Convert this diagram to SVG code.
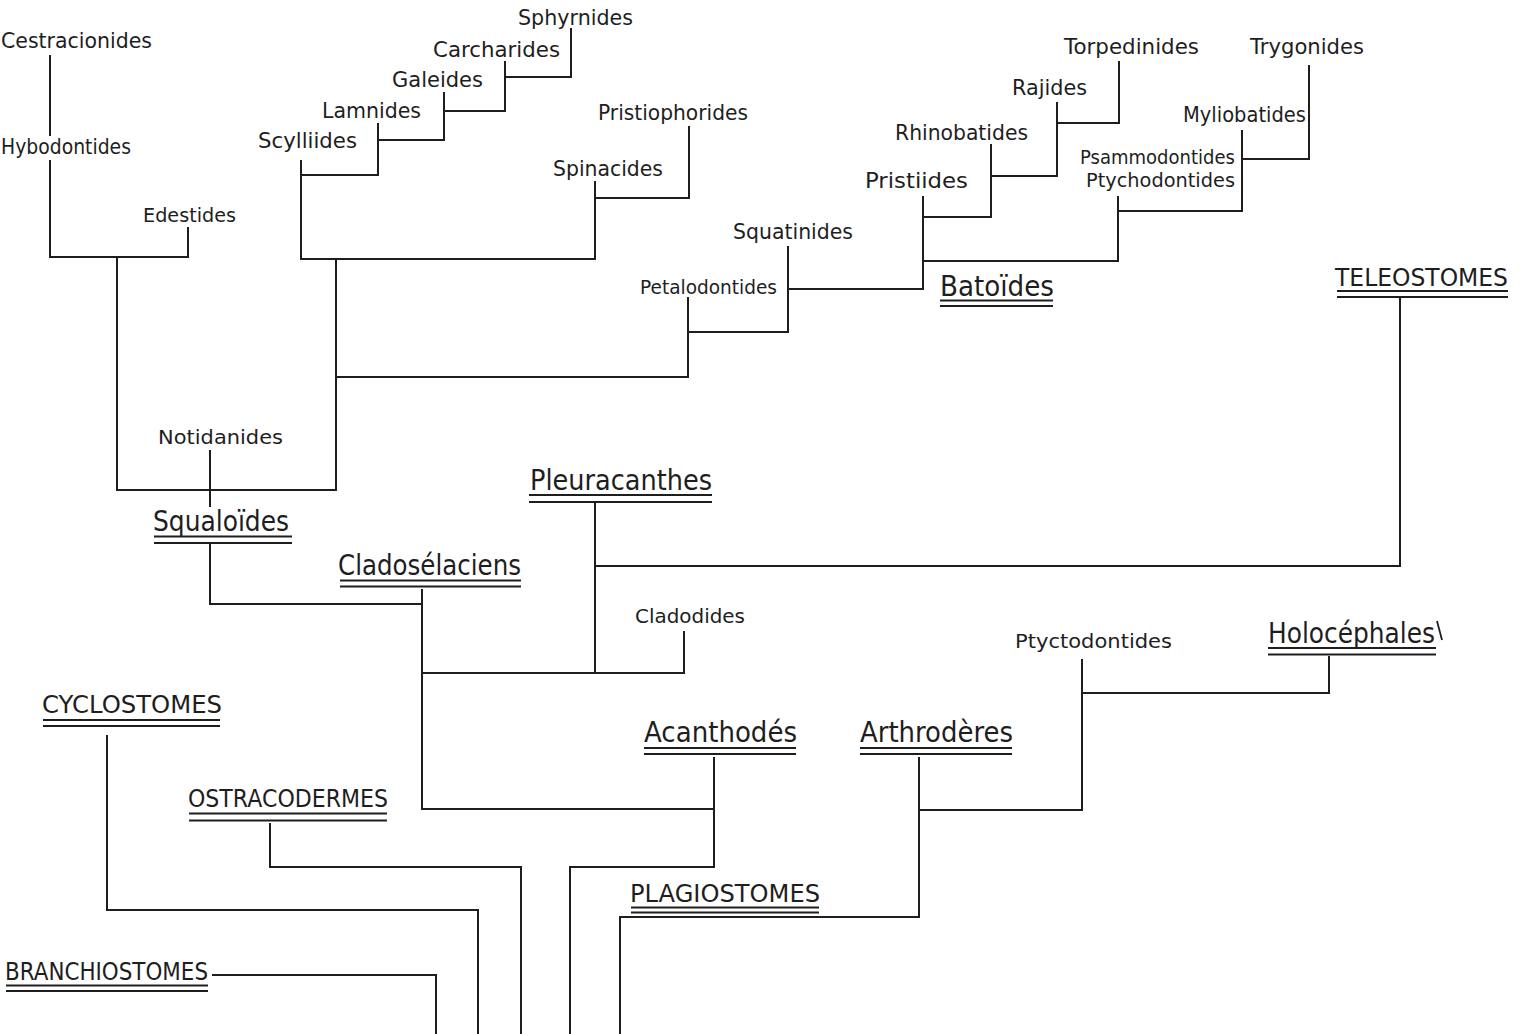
<svg xmlns="http://www.w3.org/2000/svg" width="1528" height="1034" viewBox="0 0 1528 1034">
  <style>
    .bg { fill: #ffffff; }
    .ln { stroke: #1e1e1e; stroke-width: 2; fill: none; stroke-linecap: square; }
    .ul { stroke: #1e1e1e; stroke-width: 1.8; fill: none; }
    .t { font-family: "DejaVu Sans", "Liberation Sans", sans-serif; fill: #1e1e1e; }
    .s { font-size: 21px; }
    .xs { font-size: 19px; }
    .m { font-size: 28px; }
    .u { font-size: 24px; }
  </style>
  <rect class="bg" x="0" y="0" width="1528" height="1034"/>

  <!-- tree connectors -->
  <g id="connectors">
    <!-- Cestracionides / Hybodontides / Edestides -->
    <path class="ln" d="M50 56 V135 M50 161 V257 H188 V228 M117 257 V490 H336"/>
    <!-- Scylliides to Sphyrnides ladder -->
    <path class="ln" d="M301 161 V259 H595 M301 175 H378 V124 M378 140 H444 V93 M444 111 H505 V62 M505 77 H571 V29"/>
    <!-- Spinacides / Pristiophorides -->
    <path class="ln" d="M595 182 V259 M595 198 H689 V127"/>
    <!-- main shark branch -->
    <path class="ln" d="M336 259 V490 M336 377 H688 V298 M688 332 H788 V247"/>
    <!-- Squatinides to Batoides -->
    <path class="ln" d="M788 332 V289 H923 V197 M923 217 H991 V145 M991 176 H1057 V103 M1057 123 H1119 V62"/>
    <path class="ln" d="M923 261 H1118 V197 M1118 211 H1242 V131 M1242 159 H1309 V66"/>
    <!-- Notidanides / Squaloides / Cladoselaciens -->
    <path class="ln" d="M210 451 V506 M210 545 V604 H422 M422 590 V809 H714"/>
    <!-- Pleuracanthes / Cladodides / Teleostomes -->
    <path class="ln" d="M422 673 H684 V632 M595 503 V673 M595 566 H1400 V298"/>
    <!-- Acanthodes -->
    <path class="ln" d="M714 758 V867 H570 V1034"/>
    <!-- Arthroderes / Ptyctodontides / Holocephales -->
    <path class="ln" d="M919 758 V917 H620 V1034 M919 810 H1082 V660 M1082 693 H1329 V657"/>
    <!-- Ostracodermes / Cyclostomes / Branchiostomes -->
    <path class="ln" d="M270 824 V867 H521 V1034"/>
    <path class="ln" d="M107 736 V910 H478 V1034"/>
    <path class="ln" d="M213 975 H436 V1034"/>
  </g>

  <!-- small labels -->
  <g id="cestracionides"><text class="t s" x="1" y="48" textLength="151" lengthAdjust="spacingAndGlyphs">Cestracionides</text></g>
  <g id="hybodontides"><text class="t s" x="1" y="154" textLength="130" lengthAdjust="spacingAndGlyphs">Hybodontides</text></g>
  <g id="edestides"><text class="t xs" x="143" y="222" textLength="93" lengthAdjust="spacingAndGlyphs">Edestides</text></g>
  <g id="scylliides"><text class="t s" x="258" y="148" textLength="99" lengthAdjust="spacingAndGlyphs">Scylliides</text></g>
  <g id="lamnides"><text class="t s" x="322" y="118" textLength="99" lengthAdjust="spacingAndGlyphs">Lamnides</text></g>
  <g id="galeides"><text class="t s" x="392" y="87" textLength="91" lengthAdjust="spacingAndGlyphs">Galeides</text></g>
  <g id="carcharides"><text class="t s" x="433" y="57" textLength="127" lengthAdjust="spacingAndGlyphs">Carcharides</text></g>
  <g id="sphyrnides"><text class="t s" x="518" y="25" textLength="115" lengthAdjust="spacingAndGlyphs">Sphyrnides</text></g>
  <g id="pristiophorides"><text class="t s" x="598" y="120" textLength="150" lengthAdjust="spacingAndGlyphs">Pristiophorides</text></g>
  <g id="spinacides"><text class="t s" x="553" y="176" textLength="110" lengthAdjust="spacingAndGlyphs">Spinacides</text></g>
  <g id="squatinides"><text class="t s" x="733" y="239" textLength="120" lengthAdjust="spacingAndGlyphs">Squatinides</text></g>
  <g id="petalodontides"><text class="t xs" x="640" y="294" textLength="137" lengthAdjust="spacingAndGlyphs">Petalodontides</text></g>
  <g id="pristiides"><text class="t s" x="865" y="188" textLength="103" lengthAdjust="spacingAndGlyphs">Pristiides</text></g>
  <g id="rhinobatides"><text class="t s" x="895" y="140" textLength="133" lengthAdjust="spacingAndGlyphs">Rhinobatides</text></g>
  <g id="rajides"><text class="t s" x="1012" y="95" textLength="75" lengthAdjust="spacingAndGlyphs">Rajides</text></g>
  <g id="torpedinides"><text class="t s" x="1064" y="54" textLength="135" lengthAdjust="spacingAndGlyphs">Torpedinides</text></g>
  <g id="trygonides"><text class="t s" x="1250" y="54" textLength="114" lengthAdjust="spacingAndGlyphs">Trygonides</text></g>
  <g id="myliobatides"><text class="t s" x="1183" y="122" textLength="123" lengthAdjust="spacingAndGlyphs">Myliobatides</text></g>
  <g id="psammodontides">
    <text class="t xs" x="1080" y="164" textLength="155" lengthAdjust="spacingAndGlyphs">Psammodontides</text>
    <text class="t xs" x="1086" y="187" textLength="149" lengthAdjust="spacingAndGlyphs">Ptychodontides</text>
  </g>
  <g id="notidanides"><text class="t xs" x="158" y="444" textLength="125" lengthAdjust="spacingAndGlyphs">Notidanides</text></g>
  <g id="cladodides"><text class="t xs" x="635" y="623" textLength="110" lengthAdjust="spacingAndGlyphs">Cladodides</text></g>
  <g id="ptyctodontides"><text class="t xs" x="1015" y="648" textLength="157" lengthAdjust="spacingAndGlyphs">Ptyctodontides</text></g>

  <!-- major groups, double underlined -->
  <g id="batoides">
    <text class="t m" x="940" y="296" textLength="114" lengthAdjust="spacingAndGlyphs">Batoïdes</text>
    <path class="ul" d="M940 300.5 H1053 M940 306 H1053"/>
  </g>
  <g id="teleostomes">
    <text class="t u" x="1335" y="286" textLength="173" lengthAdjust="spacingAndGlyphs">TELEOSTOMES</text>
    <path class="ul" d="M1337 291 H1508 M1337 297 H1508"/>
  </g>
  <g id="squaloides">
    <text class="t m" x="153" y="531" textLength="136" lengthAdjust="spacingAndGlyphs">Squaloïdes</text>
    <path class="ul" d="M154 536.5 H292 M154 543 H292"/>
  </g>
  <g id="pleuracanthes">
    <text class="t m" x="530" y="490" textLength="182" lengthAdjust="spacingAndGlyphs">Pleuracanthes</text>
    <path class="ul" d="M529 495 H712 M529 502 H712"/>
  </g>
  <g id="cladoselaciens">
    <text class="t m" x="338" y="575" textLength="183" lengthAdjust="spacingAndGlyphs">Cladosélaciens</text>
    <path class="ul" d="M340 580.5 H521 M340 586.5 H521"/>
  </g>
  <g id="holocephales">
    <text class="t m" x="1268" y="643" textLength="167" lengthAdjust="spacingAndGlyphs">Holocéphales</text>
    <path class="ul" d="M1268 648 H1436 M1268 654.5 H1436"/>
    <path class="ul" d="M1437 621 L1442 640"/>
  </g>
  <g id="cyclostomes">
    <text class="t u" x="42" y="713" textLength="180" lengthAdjust="spacingAndGlyphs">CYCLOSTOMES</text>
    <path class="ul" d="M43 720 H220 M43 726 H220"/>
  </g>
  <g id="acanthodes">
    <text class="t m" x="644" y="742" textLength="153" lengthAdjust="spacingAndGlyphs">Acanthodés</text>
    <path class="ul" d="M644 748 H796 M644 754 H796"/>
  </g>
  <g id="arthroderes">
    <text class="t m" x="860" y="742" textLength="153" lengthAdjust="spacingAndGlyphs">Arthrodères</text>
    <path class="ul" d="M860 748 H1012 M860 754 H1012"/>
  </g>
  <g id="ostracodermes">
    <text class="t u" x="188" y="807" textLength="200" lengthAdjust="spacingAndGlyphs">OSTRACODERMES</text>
    <path class="ul" d="M189 813.5 H387 M189 820.5 H387"/>
  </g>
  <g id="plagiostomes">
    <text class="t u" x="630" y="902" textLength="190" lengthAdjust="spacingAndGlyphs">PLAGIOSTOMES</text>
    <path class="ul" d="M631 907.5 H819 M631 912.5 H819"/>
  </g>
  <g id="branchiostomes">
    <text class="t u" x="5" y="980" textLength="203" lengthAdjust="spacingAndGlyphs">BRANCHIOSTOMES</text>
    <path class="ul" d="M6 985.5 H208 M6 991 H208"/>
  </g>
</svg>
